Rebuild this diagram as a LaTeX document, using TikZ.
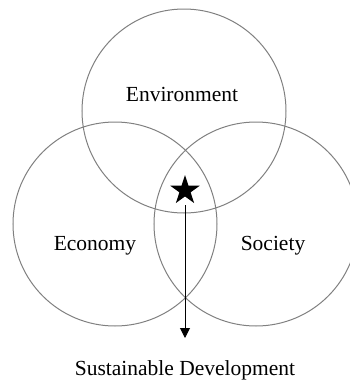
\documentclass[tikz,border=0pt]{standalone}
\usepackage{fontspec}
\setmainfont{Liberation Serif}
\usetikzlibrary{shapes.geometric,arrows.meta}
\begin{document}
\begin{tikzpicture}[x=1bp,y=-1bp,
  ring/.style={circle,draw=gray,line width=1bp,minimum size=204bp,inner sep=0pt},
  label/.style={font=\fontsize{21.5bp}{26bp}\selectfont,anchor=base,inner sep=0pt},
  sdarrow/.style={draw=black,line width=1bp,-{Triangle[width=10bp,length=10bp]}}]
  \useasboundingbox (0,0) rectangle (350,380);
  \clip (0,0) rectangle (350,380);
  % the three pillars
  \node[ring] (env) at (184,111) {};
  \node[ring] (eco) at (115,224) {};
  \node[ring] (soc) at (256,224) {};
  % pillar names
  \node[label] (envt) at (182,101.5) {Environment};
  \node[label] (ecot) at (95,250) {Economy};
  \node[label] (soct) at (273,250) {Society};
  % the shared core and where it leads
  \node[star,star points=5,star point ratio=2.618,fill=black,draw=none,
        minimum size=31bp,inner sep=0pt] (core) at (185,190.5) {};
  \coordinate (from) at (185,205);
  \coordinate (to) at (185,338);
  \draw[sdarrow] (from) -- (to);
  \node[label] (sd) at (185,375) {Sustainable Development};
\end{tikzpicture}
\end{document}
